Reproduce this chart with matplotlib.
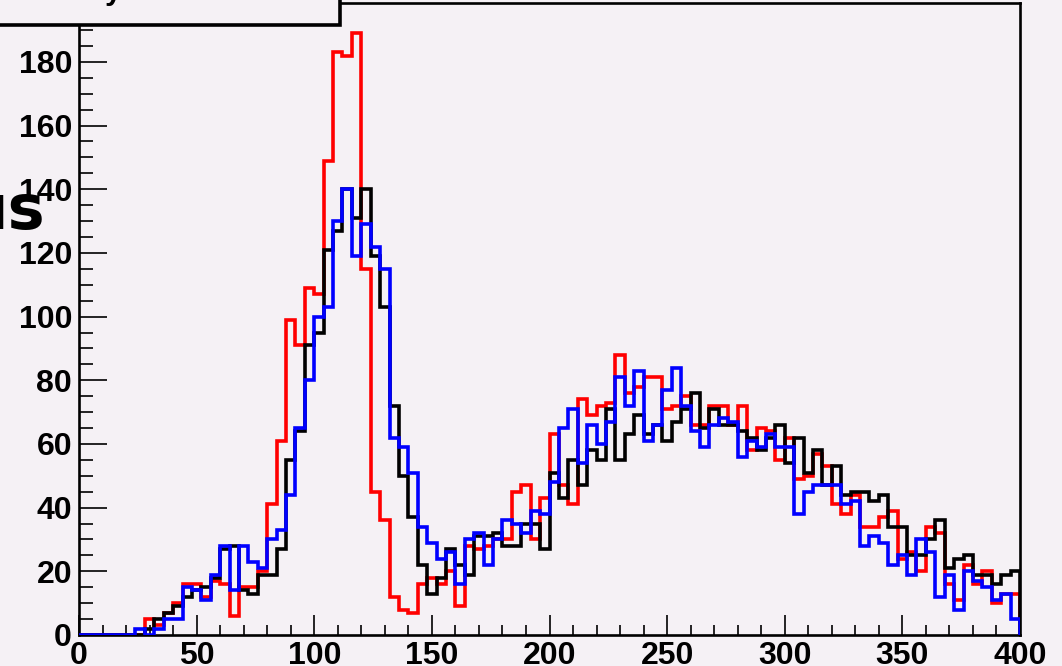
import matplotlib
matplotlib.use('Agg')
import matplotlib.pyplot as plt
from matplotlib.patches import Rectangle
from matplotlib.ticker import MultipleLocator
import numpy as np

# histogram binning: 100 bins from 0 to 400
edges = np.linspace(0, 400, 101)

red = [0, 0, 0, 0, 0, 0, 0, 5, 3, 7,
       10, 16, 16, 12, 17, 16, 6, 15, 15, 20,
       41, 61, 99, 91, 109, 107, 149, 183, 182, 189,
       115, 45, 36, 12, 8, 7, 16, 18, 16, 20,
       9, 28, 27, 28, 30, 30, 45, 47, 30, 43,
       63, 47, 41, 74, 69, 72, 73, 88, 76, 78,
       81, 81, 71, 72, 75, 66, 66, 72, 72, 66,
       72, 58, 65, 64, 55, 62, 49, 50, 57, 53,
       41, 38, 44, 34, 34, 37, 39, 24, 26, 20,
       34, 32, 16, 11, 22, 16, 20, 10, 13, 13]

black = [0, 0, 0, 0, 0, 0, 0, 2, 5, 7,
         9, 12, 14, 15, 18, 27, 28, 14, 13, 19,
         19, 27, 55, 64, 91, 95, 121, 127, 140, 131,
         140, 119, 103, 72, 50, 37, 22, 13, 18, 27,
         22, 19, 31, 31, 32, 28, 28, 35, 35, 27,
         51, 43, 55, 47, 58, 55, 71, 55, 63, 69,
         63, 66, 61, 67, 71, 76, 65, 71, 66, 66,
         64, 62, 58, 62, 66, 54, 62, 51, 58, 47,
         53, 44, 45, 45, 42, 44, 34, 34, 25, 25,
         30, 36, 21, 24, 25, 19, 19, 16, 19, 20]

blue = [0, 0, 0, 0, 0, 0, 2, 0, 2, 5,
        5, 15, 14, 11, 19, 28, 14, 28, 23, 21,
        30, 33, 44, 65, 80, 100, 103, 130, 140, 119,
        129, 122, 115, 62, 59, 51, 34, 29, 24, 26,
        16, 30, 32, 22, 30, 36, 35, 32, 39, 38,
        48, 65, 71, 54, 66, 60, 67, 81, 72, 83,
        61, 66, 77, 84, 72, 64, 59, 66, 68, 67,
        56, 61, 59, 63, 59, 59, 38, 45, 47, 47,
        47, 41, 42, 28, 31, 29, 22, 25, 19, 30,
        26, 12, 19, 8, 20, 17, 15, 11, 13, 5]

xticks = [0, 50, 100, 150, 200, 250, 300, 350, 400]
yticks = [0, 20, 40, 60, 80, 100, 120, 140, 160, 180]

bg = '#f5f1f5'
W, H = 1062, 666

fig = plt.figure(figsize=(W / 100, H / 100), dpi=100, facecolor=bg)
ax = fig.add_axes([79 / W, 31 / H, (1020 - 79) / W, (635 - 3) / H])
ax.set_facecolor(bg)

ax.stairs(red, edges, baseline=0, color='#ff0000', lw=2.6, zorder=2)
ax.stairs(black, edges, baseline=0, color='black', lw=2.6, zorder=3)
ax.stairs(blue, edges, baseline=0, color='#0000ff', lw=2.6, zorder=4)

ax.set_xlim(0, 400)
ax.set_ylim(0, 198.5)
ax.set_xticks(xticks)
ax.set_yticks(yticks)
ax.xaxis.set_minor_locator(MultipleLocator(10))
ax.yaxis.set_minor_locator(MultipleLocator(5))

for s in ax.spines.values():
    s.set_linewidth(1.9)

ax.tick_params(axis='x', which='major', direction='in', length=14.5, width=1.2, pad=4)
ax.tick_params(axis='x', which='minor', direction='in', length=7.2, width=1.2)
ax.tick_params(axis='y', which='major', direction='in', length=20, width=1.2, pad=5)
ax.tick_params(axis='y', which='minor', direction='in', length=10, width=1.2)

for lab in ax.get_xticklabels() + ax.get_yticklabels():
    lab.set_fontfamily('Liberation Sans')
    lab.set_fontweight('bold')
    lab.set_fontsize(23)

# title box, cut off at the top of the picture
fig.patches.append(Rectangle((-0.01, (666 - 25) / H), (340 / W) + 0.01, 0.05,
                             transform=fig.transFigure, facecolor=bg,
                             edgecolor='black', lw=2.6, zorder=10))
fig.text(113 / W, 1 + 1 / H, 'y', fontsize=22, fontweight='bold',
         family='Liberation Sans', ha='center', va='baseline', zorder=11)

# partly cut text on the left edge
fig.text(45 / W, (666 - 229) / H, 'us', fontsize=45, fontweight='bold',
         family='DejaVu Sans', ha='right', va='baseline', zorder=11)

plt.savefig('out.png', dpi=100, facecolor=bg)
